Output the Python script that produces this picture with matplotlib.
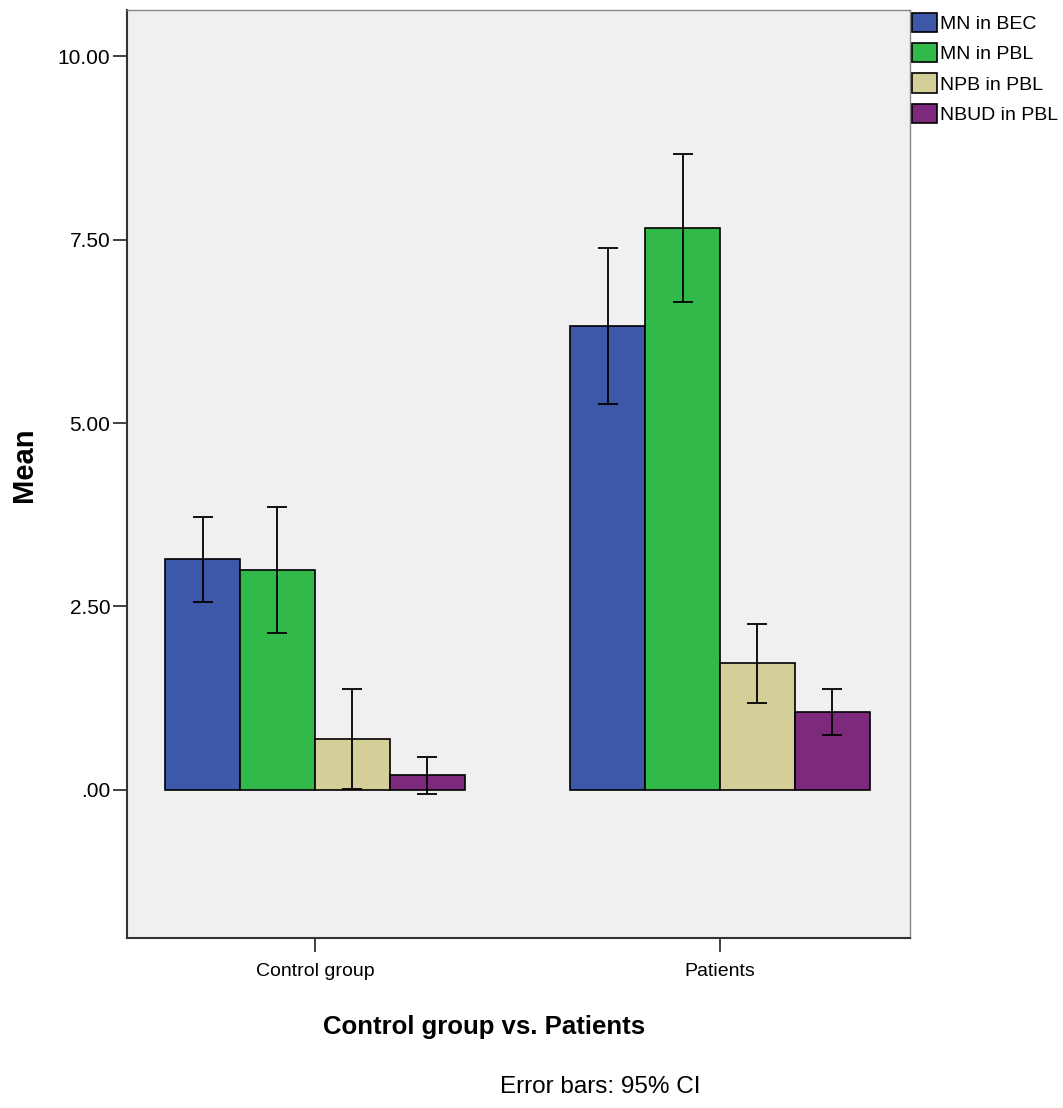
import matplotlib
matplotlib.use("Agg")
import matplotlib.pyplot as plt
import numpy as np

plt.rcParams["font.family"] = ["Liberation Sans", "DejaVu Sans"]

groups = ["Control group", "Patients"]
series = ["MN in BEC", "MN in PBL", "NPB in PBL", "NBUD in PBL"]
colors = ["#3D58A9", "#31B94A", "#D4CF98", "#7E2A7C"]

means = [
    [3.15, 6.32],  # MN in BEC
    [3.00, 7.66],  # MN in PBL
    [0.69, 1.73],  # NPB in PBL
    [0.20, 1.06],  # NBUD in PBL
]
ci_low = [
    [2.56, 5.26],
    [2.14, 6.65],
    [0.01, 1.19],
    [-0.05, 0.75],
]
ci_high = [
    [3.72, 7.38],
    [3.86, 8.67],
    [1.38, 2.26],
    [0.45, 1.38],
]

fig = plt.figure(figsize=(10.63, 11.08), dpi=100)
ax = fig.add_axes([0.1195, 0.1534, 0.7365, 0.8376])
ax.set_facecolor("#F0F0F0")

x = np.arange(len(groups))
width = 0.185
for i, name in enumerate(series):
    pos = x + (i - 1.5) * width
    m = np.array(means[i])
    lo = m - np.array(ci_low[i])
    hi = np.array(ci_high[i]) - m
    ax.bar(pos, m, width, color=colors[i], edgecolor="black", linewidth=1.2,
           label=name, zorder=2)
    ax.errorbar(pos, m, yerr=[lo, hi], fmt="none", ecolor="black",
                elinewidth=1.3, capsize=7, capthick=1.3, zorder=3)

ax.set_xlim(-0.464, 1.469)
ax.set_ylim(-2.02, 10.63)
ax.set_yticks([0, 2.5, 5, 7.5, 10])
ax.set_yticklabels([".00", "2.50", "5.00", "7.50", "10.00"])
ax.set_xticks(x)
ax.set_xticklabels(groups)
ax.tick_params(axis="both", labelsize=15, length=10, width=1.3, color="#333333")
ax.tick_params(axis="x", labelsize=14, pad=8)
ax.tick_params(axis="y", pad=2)

for side in ["top", "right"]:
    ax.spines[side].set_color("#888888")
    ax.spines[side].set_linewidth(1)
for side in ["left", "bottom"]:
    ax.spines[side].set_color("#333333")
    ax.spines[side].set_linewidth(1.5)

ax.set_ylabel("Mean", fontsize=21, fontweight="bold")
ax.yaxis.set_label_coords(-0.114, 0.51)
ax.set_xlabel("Control group vs. Patients", fontsize=18.5, fontweight="bold")
ax.xaxis.set_label_coords(0.456, -0.083)

fig.text(0.565, 0.019, "Error bars: 95% CI", fontsize=17.5, ha="center", va="center")

ax.legend(loc="upper left", bbox_to_anchor=(1.003, 0.997), frameon=False, fontsize=14,
          handlelength=1.25, handleheight=1.15, handletextpad=0.2, labelspacing=0.52,
          borderaxespad=0.0, borderpad=0.0)

fig.savefig("out.png", dpi=100)
